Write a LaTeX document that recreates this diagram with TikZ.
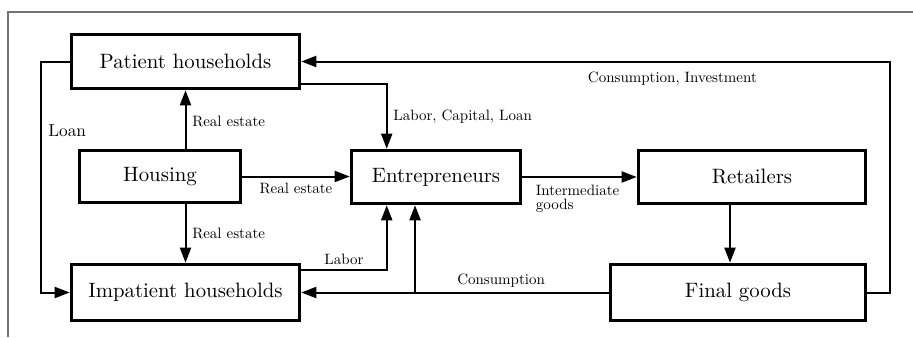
\documentclass[tikz,border=0pt]{standalone}
\usepackage{tikz}
\usetikzlibrary{arrows.meta}
\tikzstyle{agent} = [draw=black, line width=1.8pt, rectangle, inner sep=0pt, font=\fontsize{10.4}{12.5}\selectfont]
\tikzstyle{flow} = [draw=black, line width=1pt, -{Triangle[length=7.5pt,width=5.5pt]}]
\tikzstyle{lbl} = [font=\normalsize, scale=0.75, inner sep=4pt]

\begin{document}
\begin{tikzpicture}[x=0.5pt,y=-0.5pt]
	\useasboundingbox (0,0) rectangle (913,337);
	\draw [black!55, line width=0.6pt] (8,337) -- (8,12) -- (913,12); %frame
	% agents
	\node [agent, minimum width=114pt, minimum height=27pt] (patient) at (185.5,61.5) {Patient households};
	\node [agent, minimum width=80.5pt, minimum height=26pt] (housing) at (160,176.5) {Housing};
	\node [agent, minimum width=84.5pt, minimum height=26.5pt] (entre) at (436,177) {Entrepreneurs};
	\node [agent, minimum width=113.5pt, minimum height=26.5pt] (retail) at (752,177) {Retailers};
	\node [agent, minimum width=114pt, minimum height=28pt] (impatient) at (185.5,292.5) {Impatient households};
	\node [agent, minimum width=127.5pt, minimum height=28pt] (final) at (738,292.5) {Final goods};
	% flows
	\draw [flow] (patient.south |- housing.north) -- node[lbl, right, yshift=-1pt]{Real estate} (patient.south);
	\draw [flow] (impatient.north |- housing.south) -- node[lbl, right]{Real estate} (impatient.north);
	\draw [flow] (housing.east) -- node[lbl, below]{Real estate} (housing.east -| entre.west);
	\draw [flow] ([yshift=3pt]patient.south east) -| node[lbl, right, pos=0.75]{Labor, Capital, Loan} ([xshift=18.5pt]entre.north west);
	\draw [flow] (final.east) -- ++(23,0) |- node[lbl, below, pos=0.685, yshift=-2.5pt]{Consumption, Investment} (patient.east);
	\draw [flow] (patient.west) -- ++(-29,0) |- node[lbl, scale=1.15, right, pos=0.15]{Loan} (impatient.west);
	\draw [flow] ([yshift=-3.5pt]impatient.north east) -| node[lbl, above, pos=0.25, yshift=-1pt]{Labor} ([xshift=18.5pt]entre.south west);
	\draw [flow] (final.west) -- node[lbl, above, pos=0.35, yshift=-1pt]{Consumption} coordinate[pos=0.63] (split) (impatient.east);
	\draw [flow] (split) -- (split |- entre.south);
	\draw [flow] (entre.east) -- node[lbl, below right, align=left, pos=0.06, yshift=-1pt]{Intermediate\\[-2.7pt]goods} (entre.east -| retail.west);
	\coordinate (rf) at ([xshift=-11pt]retail.south);
	\draw [flow] (rf) -- (rf |- final.north);
\end{tikzpicture}
\end{document}
